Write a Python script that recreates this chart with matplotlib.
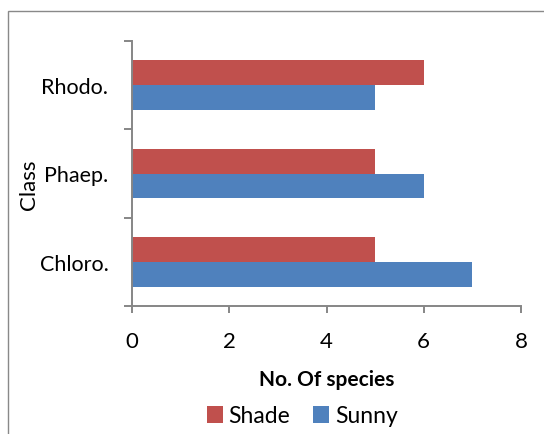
import matplotlib.pyplot as plt
from matplotlib.patches import Rectangle

# species counts per algal class
classes = ['Chloro.', 'Phaep.', 'Rhodo.']
shade = [5, 5, 6]
sunny = [7, 6, 5]

plt.rcParams['font.family'] = ['Lato', 'DejaVu Sans']

axis_grey = '#868686'
red = '#C0504D'
blue = '#4F81BD'

fig = plt.figure(figsize=(5.44, 4.35), dpi=100)
ax = fig.add_axes([132 / 544, 1 - 307 / 435, (521 - 132) / 544, (307 - 42) / 435])

# outer chart frame
fig.patches.append(Rectangle((8 / 544, -0.1), 1.2, 1 - 12 / 435 + 0.1,
                             transform=fig.transFigure, fill=False,
                             edgecolor='#898989', linewidth=1.0))

h = 0.283
pos = list(range(len(classes)))
ax.barh([p + h / 2 for p in pos], shade, height=h, color=red, label='Shade')
ax.barh([p - h / 2 for p in pos], sunny, height=h, color=blue, label='Sunny')

ax.set_xlim(0, 8)
ax.set_ylim(-0.5, 2.5)
ax.set_xticks([0, 2, 4, 6, 8])

# category ticks sit on the boundaries, labels in the middle
ax.set_yticks([-0.5, 0.5, 1.5, 2.5])
ax.set_yticklabels([])
ax.set_yticks(pos, minor=True)
ax.set_yticklabels(classes, minor=True)
ax.tick_params(axis='y', which='minor', length=0, pad=17, labelsize=15.5)
ax.tick_params(axis='y', which='major', direction='out', length=5.8,
               width=1.4, color=axis_grey)
ax.tick_params(axis='x', direction='out', length=5, width=1.4,
               color=axis_grey, pad=13, labelsize=16)

for s in ['top', 'right']:
    ax.spines[s].set_visible(False)
for s in ['left', 'bottom']:
    ax.spines[s].set_color(axis_grey)
    ax.spines[s].set_linewidth(1.4)

ax.set_xlabel('No. Of species', fontsize=15, fontweight='bold', labelpad=13)
fig.text(29 / 544, 1 - 185 / 435, 'Class', rotation=90, fontsize=16,
         ha='center', va='center')

fig.legend(loc='center', bbox_to_anchor=(302 / 544, 1 - 417 / 435), ncol=2,
           frameon=False, fontsize=16.5, handlelength=0.7, handleheight=0.7,
           handletextpad=0.25, columnspacing=1.0, borderpad=0)

fig.savefig('out.png', dpi=100)
